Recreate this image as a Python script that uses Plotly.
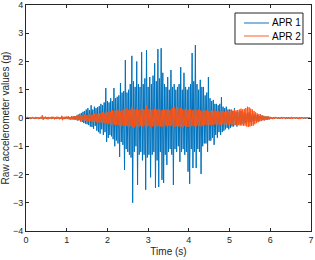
import plotly.graph_objects as go

DT = 0.02  # sample spacing (s)

apr1 = [
    0.02,-0.02,0.03,-0.01,0.02,-0.03,0.01,-0.02,0.03,-0.02,
    0.01,-0.03,0.02,-0.02,0.03,-0.01,0.02,-0.03,0.02,-0.01,
    0.03,-0.02,0.02,-0.03,0.01,-0.02,0.03,-0.02,0.02,-0.03,
    0.02,-0.01,0.03,-0.02,0.02,-0.03,0.03,-0.02,0.01,-0.02,
    0.03,-0.03,0.02,-0.02,0.04,-0.03,0.02,-0.04,0.03,-0.02,
    0.04,-0.03,0.05,-0.04,0.03,-0.05,0.06,-0.04,0.05,-0.06,
    0.07,-0.05,0.08,-0.09,0.12,-0.08,0.15,-0.12,0.18,-0.14,
    0.22,-0.18,0.25,-0.2,0.3,-0.22,0.35,-0.25,0.28,-0.3,
    0.45,-0.32,0.3,-0.38,0.4,-0.28,0.35,-0.45,0.38,-0.5,
    0.42,-0.55,0.5,-0.4,0.45,-0.6,0.55,-0.5,1.06,-0.85,
    0.6,-0.7,0.55,-0.6,0.7,-0.65,0.6,-0.75,1.06,-1.0,
    0.7,-0.8,0.75,-0.9,0.8,-1.38,1.24,-0.85,0.9,-0.95,
    0.95,-1.84,2.05,-1.1,0.9,-1.2,1.0,-1.3,1.2,-1.4,
    2.2,-3.0,1.3,-1.2,1.1,-1.0,2.0,-2.37,1.2,-1.3,
    1.1,-1.2,2.33,-1.5,1.2,-1.3,1.4,-2.54,2.4,-1.4,
    1.1,-1.3,1.45,-2.1,1.2,-1.3,1.5,-1.2,1.94,-2.47,
    1.3,-1.5,2.44,-2.44,1.4,-1.2,2.47,-2.19,1.6,-2.3,
    1.2,-1.3,1.1,-1.66,1.45,-1.2,1.0,-1.1,1.7,-1.3,
    1.1,-2.37,1.2,-1.1,1.0,-1.2,1.1,-1.0,1.2,-1.55,
    1.8,-1.2,1.0,-1.1,1.6,-1.3,1.1,-1.2,1.0,-1.9,
    1.1,-2.33,1.2,-1.1,2.3,-1.77,1.3,-1.2,2.58,-1.77,
    1.2,-1.1,1.0,-1.2,1.35,-1.98,1.1,-1.0,1.1,-0.9,
    0.8,-0.9,0.9,-1.2,1.45,-0.8,0.7,-0.8,0.6,-0.7,
    0.64,-0.95,0.5,-0.6,0.5,-0.7,0.45,-0.5,0.5,-0.6,
    0.74,-0.5,0.4,-0.45,0.35,-0.4,0.4,-0.35,0.3,-0.4,
    0.3,-0.35,0.3,-0.3,0.25,-0.3,0.35,-0.25,0.2,-0.3,
    0.22,-0.25,0.2,-0.22,0.25,-0.2,0.18,-0.22,0.2,-0.18,
    0.15,-0.2,0.18,-0.15,0.2,-0.15,0.12,-0.18,0.15,-0.12,
    0.12,-0.1,0.15,-0.12,0.1,-0.12,0.08,-0.1,0.12,-0.08,
    0.08,-0.07,0.06,-0.08,0.07,-0.06,0.05,-0.06,0.05,-0.04,
    0.03,-0.02,0.02,-0.03,0.02,-0.02,0.03,-0.01,0.02,-0.02,
    0.02,-0.03,0.01,-0.02,0.03,-0.02,0.02,-0.01,0.02,-0.03,
    0.02,-0.02,0.03,-0.02,0.01,-0.02,0.02,-0.03,0.02,-0.01,
    0.03,-0.02,0.02,-0.02,0.01,-0.03,0.02,-0.02,0.03,-0.01,
    0.02,-0.02,0.01,-0.03,0.02,-0.01,0.02,-0.02,0.01,-0.02,
    0.01,
]

apr2 = [
    0.03,-0.02,0.04,-0.03,0.02,-0.04,0.03,-0.02,0.04,-0.03,
    0.02,-0.03,0.04,-0.02,0.03,-0.04,0.02,-0.03,0.04,-0.02,
    0.1,-0.07,0.04,-0.03,0.05,-0.04,0.03,-0.05,0.04,-0.03,
    0.03,-0.04,0.05,-0.03,0.04,-0.05,0.03,-0.04,0.05,-0.03,
    0.04,-0.05,0.03,-0.04,0.08,-0.08,0.04,-0.03,0.05,-0.04,
    0.05,-0.04,0.06,-0.05,0.04,-0.06,0.05,-0.05,0.07,-0.05,
    0.06,-0.07,0.08,-0.06,0.07,-0.08,0.12,-0.12,0.09,-0.08,
    0.1,-0.09,0.12,-0.1,0.11,-0.13,0.1,-0.12,0.14,-0.11,
    0.13,-0.15,0.12,-0.14,0.16,-0.13,0.15,-0.16,0.14,-0.15,
    0.17,-0.15,0.16,-0.18,0.2,-0.16,0.18,-0.2,0.22,-0.18,
    0.2,-0.22,0.25,-0.2,0.22,-0.25,0.28,-0.22,0.25,-0.24,
    0.26,-0.24,0.3,-0.25,0.27,-0.28,0.25,-0.3,0.28,-0.26,
    0.3,-0.27,0.32,-0.28,0.35,-0.3,0.28,-0.32,0.3,-0.28,
    0.4,-0.3,0.32,-0.35,0.3,-0.28,0.33,-0.3,0.28,-0.32,
    0.3,-0.28,0.35,-0.3,0.32,-0.27,0.3,-0.33,0.45,-0.3,
    0.32,-0.28,0.3,-0.3,0.28,-0.32,0.3,-0.27,0.33,-0.3,
    0.28,-0.3,0.32,-0.28,0.3,-0.3,0.27,-0.32,0.3,-0.28,
    0.3,-0.27,0.28,-0.3,0.32,-0.26,0.28,-0.29,0.3,-0.27,
    0.35,-0.3,0.4,-0.32,0.33,-0.28,0.38,-0.3,0.34,-0.31,
    0.36,-0.3,0.32,-0.34,0.3,-0.28,0.33,-0.3,0.29,-0.32,
    0.3,-0.28,0.32,-0.3,0.28,-0.27,0.3,-0.29,0.27,-0.3,
    0.28,-0.26,0.3,-0.28,0.27,-0.3,0.25,-0.27,0.28,-0.25,
    0.26,-0.25,0.28,-0.24,0.25,-0.27,0.24,-0.25,0.27,-0.23,
    0.25,-0.24,0.27,-0.22,0.24,-0.25,0.26,-0.23,0.22,-0.24,
    0.24,-0.22,0.25,-0.23,0.22,-0.24,0.26,-0.22,0.23,-0.25,
    0.25,-0.22,0.28,-0.24,0.26,-0.23,0.3,-0.25,0.27,-0.26,
    0.28,-0.25,0.3,-0.27,0.33,-0.26,0.3,-0.28,0.32,-0.27,
    0.35,-0.3,0.4,-0.32,0.38,-0.3,0.33,-0.28,0.3,-0.27,
    0.25,-0.22,0.2,-0.18,0.16,-0.15,0.14,-0.12,0.12,-0.11,
    0.1,-0.09,0.08,-0.08,0.07,-0.06,0.06,-0.05,0.05,-0.05,
    0.04,-0.03,0.03,-0.04,0.02,-0.03,0.04,-0.02,0.03,-0.03,
    0.02,-0.03,0.03,-0.02,0.04,-0.03,0.02,-0.02,0.03,-0.04,
    0.03,-0.02,0.02,-0.03,0.03,-0.02,0.04,-0.03,0.02,-0.02,
    0.03,-0.03,0.02,-0.02,0.03,-0.04,0.02,-0.03,0.03,-0.02,
    0.02,-0.03,0.03,-0.02,0.02,-0.02,0.03,-0.02,0.02,-0.03,
    0.01,
]

series_names = ["APR 1", "APR 2"]
series_colors = ["#0072BD", "#FF5212"]
legend_colors = ["#5FA0D8", "#FF9470"]
x_ticks = [0, 1, 2, 3, 4, 5, 6, 7]
y_ticks = [-4, -3, -2, -1, 0, 1, 2, 3, 4]

t1 = [i * DT for i in range(len(apr1))]
t2 = [i * DT for i in range(len(apr2))]

FONT = "Liberation Sans, Arial, sans-serif"
AX = "#262626"

fig = go.Figure()
fig.add_trace(go.Scatter(x=t1, y=apr1, mode="lines", name=series_names[0],
                         showlegend=False, hoverinfo="skip",
                         line=dict(color=series_colors[0], width=1)))
fig.add_trace(go.Scatter(x=t2, y=apr2, mode="lines", name=series_names[1],
                         showlegend=False, hoverinfo="skip",
                         line=dict(color=series_colors[1], width=1)))

axis_common = dict(showgrid=False, zeroline=False, showline=True, linecolor=AX,
                   linewidth=1, mirror="ticks", ticks="inside", ticklen=3,
                   tickcolor=AX, tickwidth=1,
                   tickfont=dict(family=FONT, size=9, color=AX))

fig.update_xaxes(range=[0, 7], tickvals=x_ticks,
                 title=dict(text="Time (s)", font=dict(family=FONT, size=10, color=AX),
                            standoff=4),
                 **axis_common)
fig.update_yaxes(range=[-4, 4], tickvals=y_ticks,
                 title=dict(text="Raw accelerometer values (g)",
                            font=dict(family=FONT, size=10, color=AX), standoff=4),
                 **axis_common)

# Compact MATLAB-style legend box (paper coordinates)
box = dict(x0=0.7333, x1=0.9719, y0=0.8274, y1=0.9646)
fig.add_shape(type="rect", xref="paper", yref="paper", **box,
              line=dict(color=AX, width=1), fillcolor="white", layer="above")
row_y = [0.9204, 0.8628]
for name, col, yy in zip(series_names, legend_colors, row_y):
    fig.add_shape(type="line", xref="paper", yref="paper",
                  x0=0.7649, x1=0.8526, y0=yy, y1=yy,
                  line=dict(color=col, width=1.5), layer="above")
    fig.add_annotation(xref="paper", yref="paper", x=0.8561, y=yy, text=name,
                       showarrow=False, xanchor="left", yanchor="middle",
                       font=dict(family=FONT, size=10, color="#000000"))

fig.update_layout(
    width=315, height=260,
    margin=dict(l=26, r=4, t=5, b=29, autoexpand=False),
    paper_bgcolor="white", plot_bgcolor="white",
    font=dict(family=FONT, color=AX),
    showlegend=False,
)

fig.write_html("out.html", config={"displayModeBar": False, "staticPlot": True},
               post_script="document.body.style.margin='0';document.body.style.padding='0';")
